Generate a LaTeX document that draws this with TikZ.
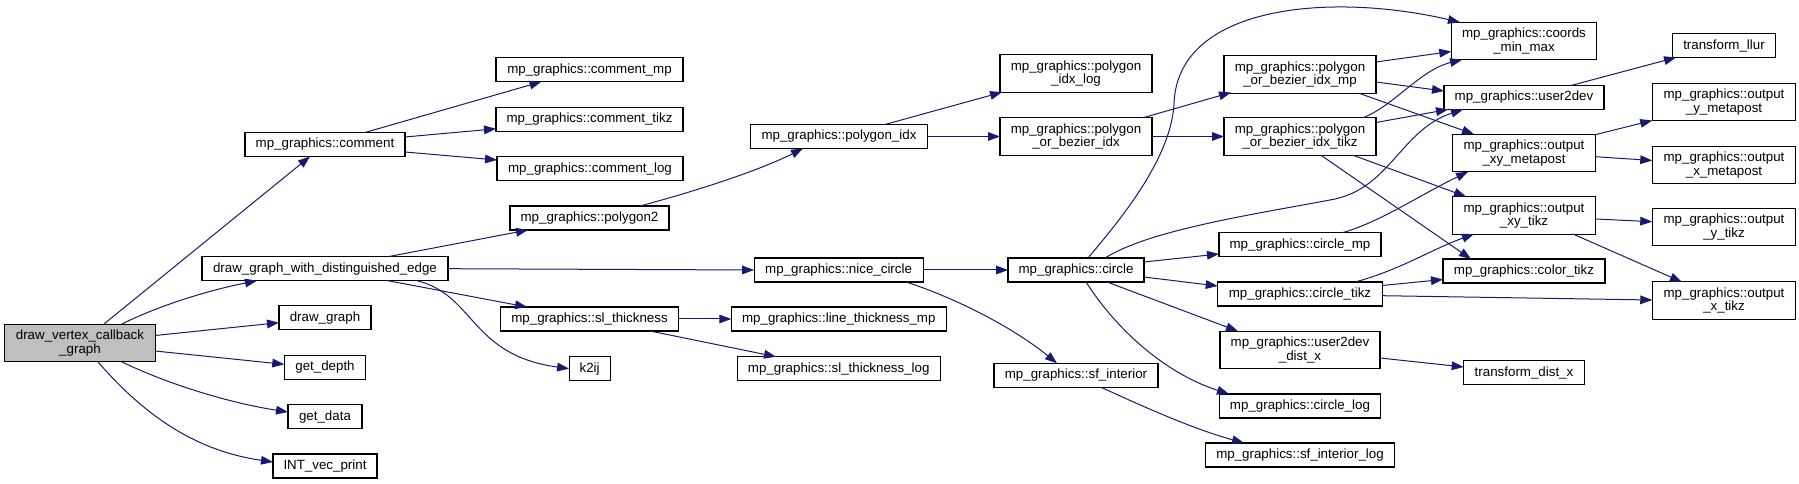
\documentclass[tikz,border=0pt]{standalone}
\usepackage{fontspec}
\setmainfont{Liberation Sans}
\usetikzlibrary{arrows.meta,calc}
\definecolor{edgecol}{HTML}{191970}
\definecolor{rootfill}{HTML}{BFBFBF}
\begin{document}
\begin{tikzpicture}[x=0.75pt,y=-0.75pt,
  box/.style={draw=black, line width=0.8pt, fill=white, inner sep=0pt, minimum height=18pt,
              font=\fontsize{10}{10.1}\selectfont, align=center},
  tall/.style={minimum height=28.2pt},
  wd/.style={minimum width=#1*0.75pt},
  edge/.style={draw=edgecol, line width=0.75pt, -{Triangle[length=9pt,width=6.5pt]}}
]
\useasboundingbox (0,0) rectangle (1799,484);

% column 1
\node[box,tall,wd=150.5,fill=rootfill] (dvcg) at (80,343) {draw\_vertex\_callback\\\_graph};
% column 2
\node[box,wd=160] (comment) at (325,144.5) {mp\_graphics::comment};
\node[box,wd=246] (dgwde) at (325,268.7) {draw\_graph\_with\_distinguished\_edge};
\node[box,wd=92] (dg) at (325,317.7) {draw\_graph};
\node[box,wd=81.5] (gdepth) at (325,367.3) {get\_depth};
\node[box,wd=74] (gdata) at (325,416.7) {get\_data};
\node[box,wd=104] (intv) at (325,466) {INT\_vec\_print};
% column 3
\node[box,wd=187] (cmp) at (589.5,69.7) {mp\_graphics::comment\_mp};
\node[box,wd=187] (ctikz) at (589.5,119.3) {mp\_graphics::comment\_tikz};
\node[box,wd=186] (clog) at (590,168.7) {mp\_graphics::comment\_log};
\node[box,wd=159] (poly2) at (589.5,218) {mp\_graphics::polygon2};
\node[box,wd=178] (slt) at (589.5,319) {mp\_graphics::sl\_thickness};
\node[box,wd=41] (k2ij) at (589.6,368.7) {k2ij};
% column 4
\node[box,wd=177] (pidx) at (839,136.5) {mp\_graphics::polygon\_idx};
\node[box,wd=169] (nc) at (838.6,270) {mp\_graphics::nice\_circle};
\node[box,wd=215] (ltmp) at (838.8,319) {mp\_graphics::line\_thickness\_mp};
\node[box,wd=203] (sltlog) at (838.7,368.7) {mp\_graphics::sl\_thickness\_log};
% column 5
\node[box,tall,wd=152] (pidxlog) at (1076,73.7) {mp\_graphics::polygon\\\_idx\_log};
\node[box,tall,wd=152] (pobi) at (1076,136.5) {mp\_graphics::polygon\\\_or\_bezier\_idx};
\node[box,wd=136] (circ) at (1076,270) {mp\_graphics::circle};
\node[box,wd=164] (sfi) at (1076,375.3) {mp\_graphics::sf\_interior};
% column 6
\node[box,tall,wd=152] (pobim) at (1300,74.5) {mp\_graphics::polygon\\\_or\_bezier\_idx\_mp};
\node[box,tall,wd=152] (pobit) at (1300,136.5) {mp\_graphics::polygon\\\_or\_bezier\_idx\_tikz};
\node[box,wd=162] (circmp) at (1300,244.7) {mp\_graphics::circle\_mp};
\node[box,wd=164.6] (circtikz) at (1300,294) {mp\_graphics::circle\_tikz};
\node[box,tall,wd=160] (u2ddx) at (1300,350) {mp\_graphics::user2dev\\\_dist\_x};
\node[box,wd=161.5] (circlog) at (1300,406) {mp\_graphics::circle\_log};
\node[box,wd=189.6] (sfilog) at (1300,455) {mp\_graphics::sf\_interior\_log};
% column 7
\node[box,tall,wd=145.5] (cmm) at (1524,41) {mp\_graphics::coords\\\_min\_max};
\node[box,wd=160] (u2d) at (1524,97.5) {mp\_graphics::user2dev};
\node[box,tall,wd=143] (oxym) at (1524,153) {mp\_graphics::output\\\_xy\_metapost};
\node[box,tall,wd=143] (oxyt) at (1524,215.3) {mp\_graphics::output\\\_xy\_tikz};
\node[box,wd=162] (ctz) at (1524,271) {mp\_graphics::color\_tikz};
\node[box,wd=120.6] (tdx) at (1524,372.7) {transform\_dist\_x};
% column 8
\node[box,wd=103.5] (llur) at (1724,45.5) {transform\_llur};
\node[box,tall,wd=143.5] (oym) at (1724,102) {mp\_graphics::output\\\_y\_metapost};
\node[box,tall,wd=143.5] (oxm) at (1724,165) {mp\_graphics::output\\\_x\_metapost};
\node[box,tall,wd=143.5] (oyt) at (1724,227) {mp\_graphics::output\\\_y\_tikz};
\node[box,tall,wd=143.5] (oxt) at (1724,300.5) {mp\_graphics::output\\\_x\_tikz};

% edges from root
\draw[edge] ($(dvcg)+(24,-19)$) -- ($(comment)+(-15,12)$);
\draw[edge] ($(dvcg)+(42,-19)$) .. controls (160,305) and (210,290) .. ($(dgwde)+(-68,12)$);
\draw[edge] ($(dvcg)+(75,-7.5)$) -- ($(dg)+(-46,5)$);
\draw[edge] ($(dvcg)+(75,8)$) -- ($(gdepth)+(-40.75,-3)$);
\draw[edge] ($(dvcg)+(42,19)$) .. controls (170,385) and (230,403) .. ($(gdata)+(-37,-4.7)$);
\draw[edge] ($(dvcg)+(18,19)$) .. controls (140,410) and (190,450) .. ($(intv)+(-52,-4)$);
% comment
\draw[edge] ($(comment)+(40,-12)$) -- ($(cmp)+(-48,12)$);
\draw[edge] ($(comment)+(80,-7.5)$) -- ($(ctikz)+(-93.5,9.5)$);
\draw[edge] ($(comment)+(80,7.5)$) -- ($(clog)+(-93,-8.7)$);
% dgwde
\draw[edge] ($(dgwde)+(63,-12)$) -- ($(poly2)+(-61.5,12)$);
\draw[edge] ($(dgwde)+(123,0)$) -- ($(nc)+(-84.5,0)$);
\draw[edge] ($(dgwde)+(63,12)$) -- ($(slt)+(-62.5,-12)$);
\draw[edge] ($(dgwde)+(92,12)$) .. controls (475,295) and (470,355) .. ($(k2ij)+(-20.5,0)$);
% polygon chain
\draw[edge] ($(poly2)+(50.5,-12)$) .. controls (700,190) and (760,170) .. ($(pidx)+(-36,12)$);
\draw[edge] ($(pidx)+(46,-12)$) -- ($(pidxlog)+(-74,18.5)$);
\draw[edge] ($(pidx)+(88.5,0)$) -- ($(pobi)+(-76,0)$);
\draw[edge] ($(pobi)+(67,-18.75)$) -- ($(pobim)+(-69,18)$);
\draw[edge] ($(pobi)+(76,0)$) -- ($(pobit)+(-76,0)$);
% nice circle
\draw[edge] ($(nc)+(84.5,0)$) -- ($(circ)+(-68,0)$);
\draw[edge] ($(nc)+(67.4,12)$) .. controls (950,296) and (1010,325) .. ($(sfi)+(-19,-12)$);
% sl thickness
\draw[edge] ($(slt)+(89,0)$) -- ($(ltmp)+(-107.5,0)$);
\draw[edge] ($(slt)+(60.5,12)$) -- ($(sltlog)+(-62.7,-12)$);
% circle
\draw[edge] ($(circ)+(12,-12)$) .. controls (1120,220) and (1170,160) .. (1174,105)
   .. controls (1176,5) and (1330,-8) .. ($(cmm)+(-64,-18.75)$);
\draw[edge] ($(circ)+(29,-12)$) .. controls (1150,230) and (1250,215) .. (1330,200)
   .. controls (1390,190) and (1400,130) .. ($(u2d)+(-61,12)$);
\draw[edge] ($(circ)+(68,-8)$) -- ($(circmp)+(-81,9.3)$);
\draw[edge] ($(circ)+(68,7)$) -- ($(circtikz)+(-82.3,-8)$);
\draw[edge] ($(circ)+(31,12)$) -- ($(u2ddx)+(-62,-18.8)$);
\draw[edge] ($(circ)+(10,12)$) .. controls (1120,335) and (1170,375) .. ($(circlog)+(-71,-12)$);
\draw[edge] ($(sfi)+(25,12)$) .. controls (1140,405) and (1190,428) .. ($(sfilog)+(-56,-12)$);
% pobim
\draw[edge] ($(pobim)+(76,-12.5)$) -- ($(cmm)+(-72.75,10.5)$);
\draw[edge] ($(pobim)+(76,7.5)$) -- ($(u2d)+(-80,-6.5)$);
\draw[edge] ($(pobim)+(59,18.75)$) -- ($(oxym)+(-50,-18.75)$);
% pobit
\draw[edge] ($(pobit)+(63,-18.75)$) .. controls (1395,105) and (1420,70) .. ($(cmm)+(-62,18.75)$);
\draw[edge] ($(pobit)+(76,-14)$) -- ($(u2d)+(-76,12)$);
\draw[edge] ($(pobit)+(53,18.75)$) -- ($(oxyt)+(-58,-18.75)$);
\draw[edge] ($(pobit)+(21,18.75)$) -- ($(ctz)+(-53,-12)$);
% circle_mp / circle_tikz
\draw[edge] ($(circmp)+(43,-12.2)$) .. controls (1380,222) and (1420,195) .. ($(oxym)+(-56,18.75)$);
\draw[edge] ($(circtikz)+(55,-12)$) .. controls (1400,270) and (1430,250) .. ($(oxyt)+(-50,18.75)$);
\draw[edge] ($(circtikz)+(82.3,-8.5)$) -- ($(ctz)+(-81,8.5)$);
\draw[edge] ($(circtikz)+(82.3,1.7)$) -- ($(oxt)+(-71.75,-0.5)$);
% outputs
\draw[edge] ($(oxym)+(70,-18)$) -- ($(oym)+(-71.75,18.5)$);
\draw[edge] ($(oxym)+(71.5,3.7)$) -- ($(oxm)+(-71.75,-4.5)$);
\draw[edge] ($(oxyt)+(71.5,3.7)$) -- ($(oyt)+(-71.75,-5.3)$);
\draw[edge] ($(oxyt)+(49,18.75)$) -- ($(oxt)+(-42,-18.5)$);
\draw[edge] ($(u2d)+(47,-12)$) -- ($(llur)+(-48,12)$);
\draw[edge] ($(u2ddx)+(80,8)$) -- ($(tdx)+(-60.3,-5.7)$);
\end{tikzpicture}
\end{document}
